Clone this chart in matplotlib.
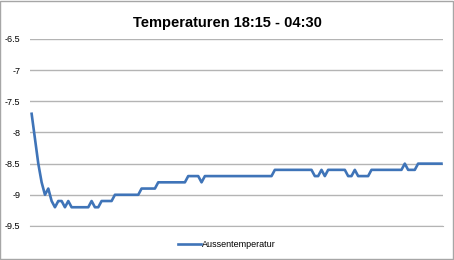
import matplotlib
matplotlib.use("Agg")
import matplotlib.pyplot as plt
from matplotlib.patches import Rectangle

# Messwerte alle 5 Minuten, 18:15 - 04:30
aussen = ([-7.7, -8.1, -8.5, -8.8, -9.0, -8.9, -9.1, -9.2, -9.1, -9.1, -9.2, -9.1]
          + [-9.2] * 6 + [-9.1, -9.2, -9.2] + [-9.1] * 4 + [-9.0] * 8
          + [-8.9] * 5 + [-8.8] * 9 + [-8.7] * 4 + [-8.8] + [-8.7] * 21
          + [-8.6] * 12 + [-8.7, -8.7, -8.6, -8.7] + [-8.6] * 6
          + [-8.7, -8.7, -8.6] + [-8.7] * 4 + [-8.6] * 10 + [-8.5]
          + [-8.6] * 3 + [-8.5] * 8)
y_ticks = [-9.5, -9, -8.5, -8, -7.5, -7, -6.5]
y_labels = ["-9.5", "-9", "-8.5", "-8", "-7.5", "-7", "-6.5"]
titel = "Temperaturen 18:15 - 04:30"

plt.rcParams['font.family'] = ['Liberation Sans', 'DejaVu Sans']

fig = plt.figure(figsize=(4.54, 2.6), dpi=100)
fig.patches.append(Rectangle((0.001, 0.002), 0.997, 0.995, transform=fig.transFigure,
                             fill=False, edgecolor='#a6a6a6', linewidth=1))
ax = fig.add_axes([0.066, 0.131, 0.910, 0.719])

x = list(range(len(aussen)))
ax.plot(x, aussen, color='#3F74B8', linewidth=1.9, label='Aussentemperatur')

ax.set_xlim(-0.5, len(aussen) - 0.5)
ax.set_ylim(-9.5, -6.5)
ax.set_yticks(y_ticks)
ax.set_yticklabels(y_labels, fontsize=6.5)
ax.set_xticks([])
ax.tick_params(axis='y', length=0, pad=7)
ax.grid(axis='y', color='#b4b4b4', linewidth=1)
ax.set_axisbelow(True)
for s in ['left', 'right', 'top']:
    ax.spines[s].set_visible(False)
ax.spines['bottom'].set_color('#b4b4b4')

fig.suptitle(titel, fontsize=10.5, fontweight='bold', y=0.94)
fig.legend(loc='center', bbox_to_anchor=(0.5, 0.058), frameon=False,
           fontsize=6.5, handlelength=2.6, handletextpad=0.1)

fig.savefig('out.png', dpi=100)
